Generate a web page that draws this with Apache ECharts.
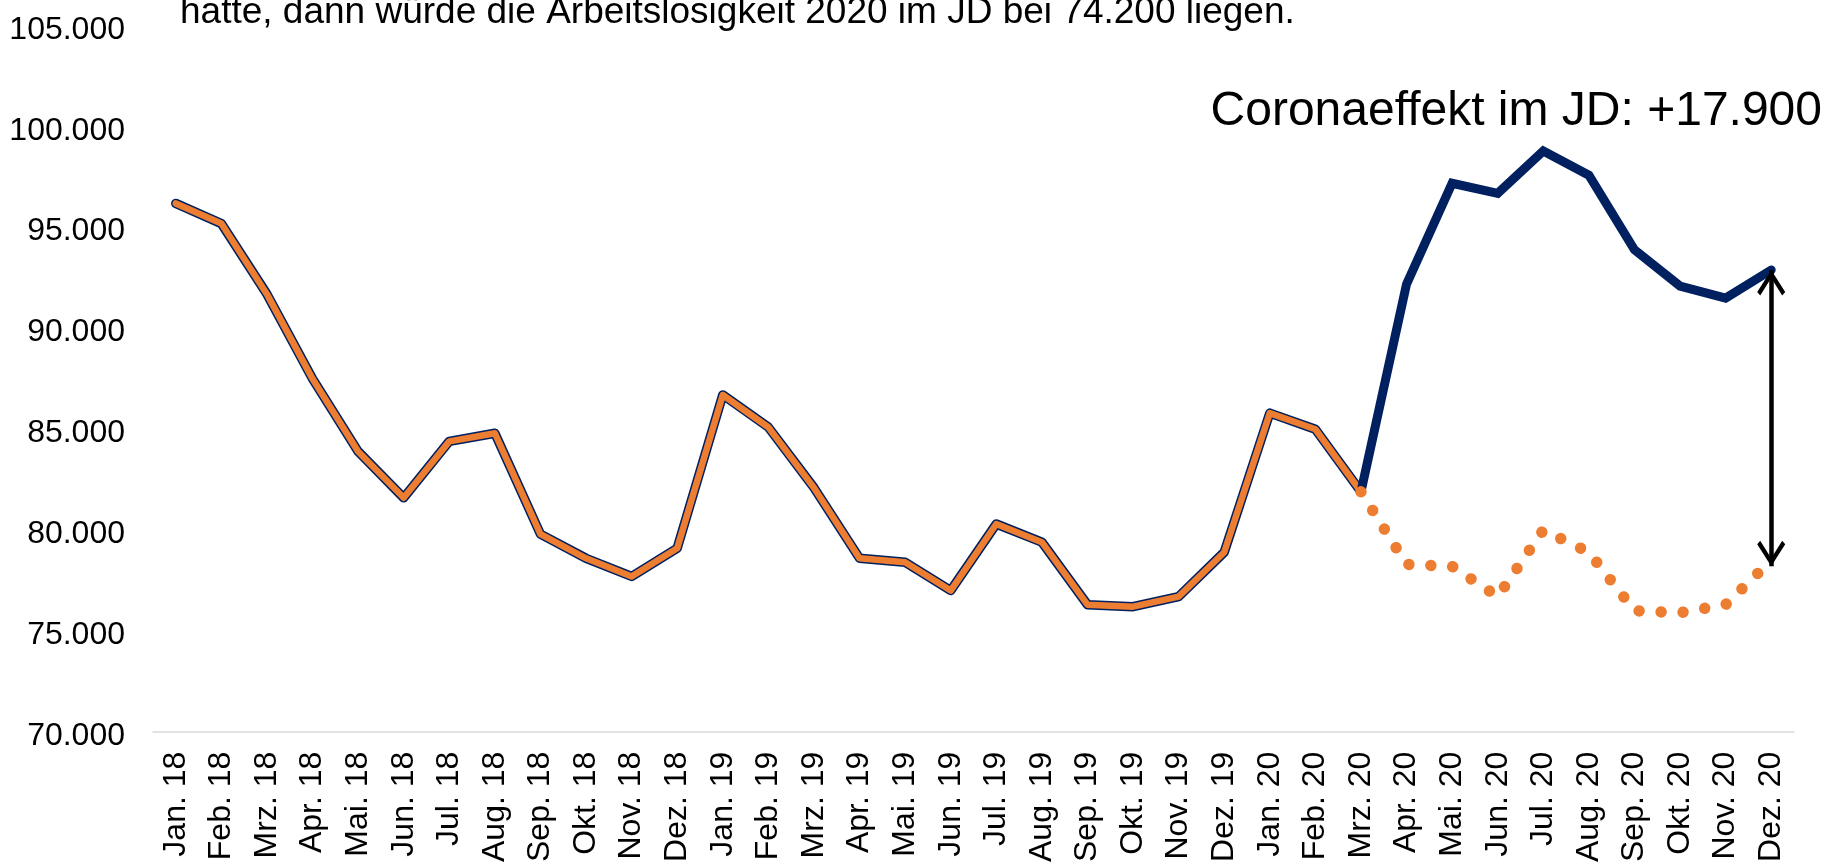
<!DOCTYPE html>
<html>
<head>
<meta charset="utf-8">
<script src="https://cdn.jsdelivr.net/npm/echarts@6/dist/echarts.min.js"></script>
<style>
  html, body { margin: 0; padding: 0; background: #fff; }
  #chart { width: 1828px; height: 865px; }
</style>
</head>
<body>
<div id="chart"></div>
<script>
// Monate (x-Achse)
var categories = [
  'Jan. 18', 'Feb. 18', 'Mrz. 18', 'Apr. 18', 'Mai. 18', 'Jun. 18', 'Jul. 18', 'Aug. 18', 'Sep. 18', 'Okt. 18', 'Nov. 18', 'Dez. 18',
  'Jan. 19', 'Feb. 19', 'Mrz. 19', 'Apr. 19', 'Mai. 19', 'Jun. 19', 'Jul. 19', 'Aug. 19', 'Sep. 19', 'Okt. 19', 'Nov. 19', 'Dez. 19',
  'Jan. 20', 'Feb. 20', 'Mrz. 20', 'Apr. 20', 'Mai. 20', 'Jun. 20', 'Jul. 20', 'Aug. 20', 'Sep. 20', 'Okt. 20', 'Nov. 20', 'Dez. 20'
];

// Arbeitslose Jan. 18 - Mrz. 20
var bisher = [
  96200, 95200, 91700, 87500, 83900, 81600, 84400, 84800, 79800, 78600, 77700, 79100,
  86700, 85100, 82100, 78600, 78400, 77000, 80300, 79400, 76300, 76200, 76700, 78900,
  85800, 85000, 81900
];

// tatsaechlich Mrz. 20 - Dez. 20
var mitCorona = [81900, 92200, 97200, 96700, 98800, 97600, 93900, 92100, 91500, 92900];

// ohne Corona (Prognose) Mrz. 20 - Dez. 20
var ohneCorona = [81900, 78300, 78200, 76700, 80000, 78900, 76000, 75900, 76300, 78500];

// Pfeil bei Dez. 20 (oben, unten)
var pfeil = [92900, 78200];

var yTicks = { min: 70000, max: 105000, step: 5000 };

var offset = bisher.length - 1; // Mrz. 20
function pad(arr, start) {
  var out = [];
  for (var i = 0; i < categories.length; i++) {
    var k = i - start;
    out.push(k >= 0 && k < arr.length ? arr[k] : null);
  }
  return out;
}

var orange = '#ED7D31';
var navy = '#002060';
var fontFam = '"Liberation Sans", Arial, sans-serif';

var myChart = echarts.init(document.getElementById('chart'));

// offene Pfeilspitze, Spitze liegt in der Mitte der Box
var chevron = 'path://M14,0 L28,22 L25,25.5 L14,8 L3,25.5 L0,22 Z M14,-25.5 L14.01,-25.5';

var option = {
  animation: false,
  grid: { left: 153, right: 34, top: 26, bottom: 129, containLabel: false },
  xAxis: {
    type: 'category',
    data: categories,
    boundaryGap: true,
    axisLine: { lineStyle: { color: '#D9D9D9', width: 1.5 } },
    axisTick: { show: false },
    axisLabel: {
      interval: 0,
      rotate: 90,
      margin: 20,
      color: '#000',
      fontSize: 32,
      fontFamily: fontFam
    }
  },
  yAxis: {
    type: 'value',
    min: yTicks.min,
    max: yTicks.max,
    interval: yTicks.step,
    axisLine: { show: false },
    axisTick: { show: false },
    splitLine: { show: false },
    axisLabel: {
      margin: 28,
      formatter: function (v) {
        return '{v|' + String(v).replace(/\B(?=(\d{3})+(?!\d))/g, '.') + '}';
      },
      rich: {
        v: {
          color: '#000',
          fontSize: 32,
          fontFamily: fontFam,
          padding: [8, 0, 0, 0]
        }
      }
    }
  },
  series: [
    {
      // dunkle Kontur
      type: 'line',
      data: pad(bisher, 0),
      symbol: 'none',
      z: 2,
      lineStyle: { color: navy, width: 9.5, cap: 'round', join: 'round' }
    },
    {
      type: 'line',
      data: pad(bisher, 0),
      symbol: 'none',
      z: 3,
      lineStyle: { color: orange, width: 6.5, cap: 'round', join: 'round' }
    },
    {
      type: 'line',
      data: pad(mitCorona, offset),
      symbol: 'none',
      z: 4,
      lineStyle: { color: navy, width: 9, cap: 'round', join: 'miter' },
      markLine: {
        silent: true,
        symbol: [chevron, chevron],
        symbolSize: [28, 51],
        label: { show: false },
        itemStyle: { color: '#000' },
        lineStyle: { color: '#000', width: 4.5, type: 'solid' },
        data: [[
          { coord: ['Dez. 20', pfeil[0]] },
          { coord: ['Dez. 20', pfeil[1]] }
        ]]
      }
    },
    {
      type: 'line',
      data: pad(ohneCorona, offset),
      symbol: 'none',
      z: 5,
      lineStyle: { color: orange, width: 11.5, type: [0.01, 22], cap: 'round' }
    }
  ],
  graphic: [
    {
      type: 'text',
      left: 180,
      top: -6,
      style: {
        text: 'hatte, dann würde die Arbeitslosigkeit 2020 im JD bei 74.200 liegen.',
        font: '37px ' + fontFam,
        fill: '#000'
      }
    },
    {
      type: 'text',
      right: 6,
      top: 88,
      style: {
        text: 'Coronaeffekt im JD: +17.900',
        font: '48px ' + fontFam,
        fill: '#000'
      }
    }
  ]
};

myChart.setOption(option);
window.addEventListener('resize', function () {
  myChart.resize();
});
</script>
</body>
</html>
